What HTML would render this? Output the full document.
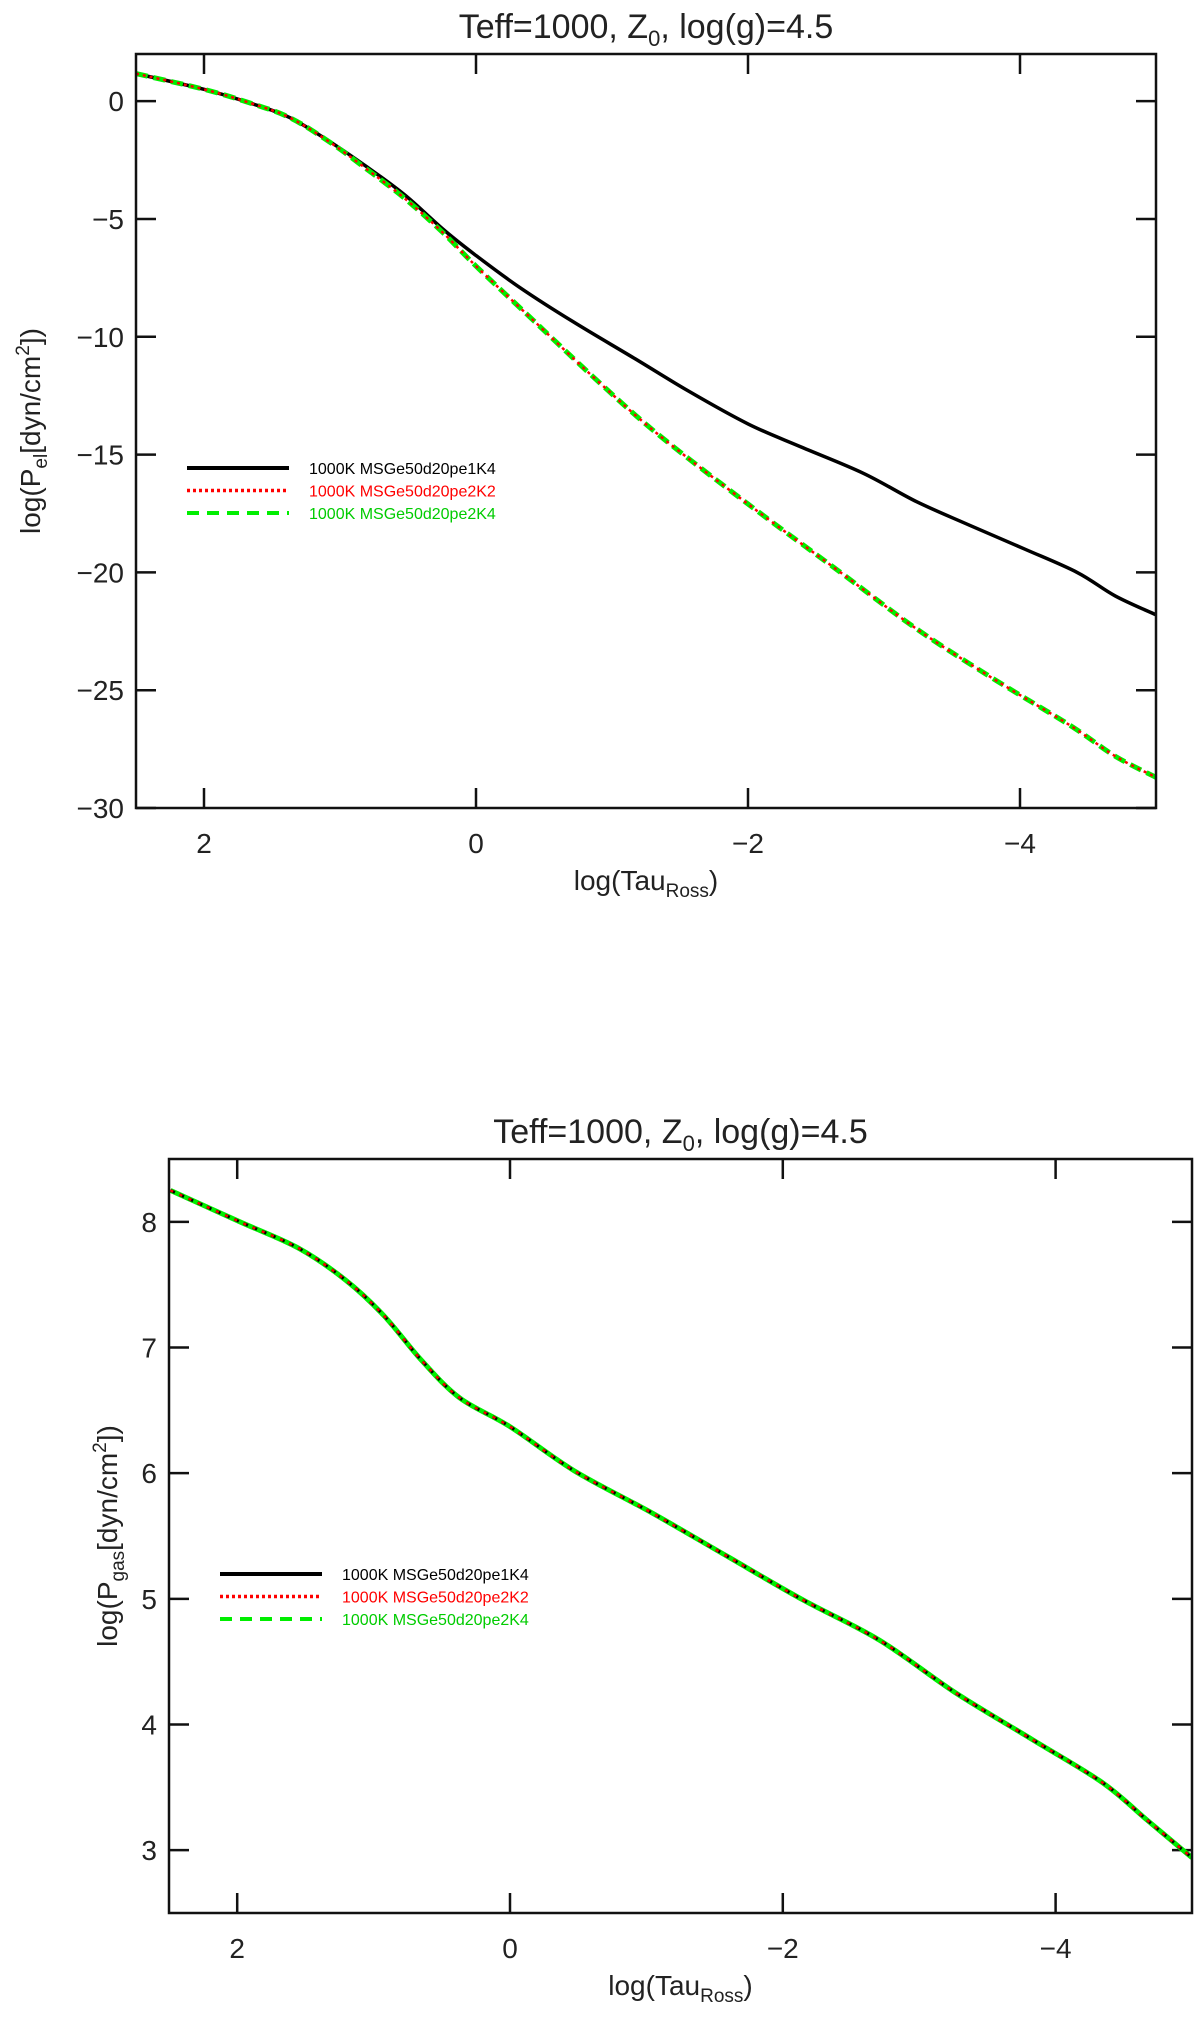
<!DOCTYPE html>
<html><head><meta charset="utf-8"><style>
html,body{margin:0;padding:0;background:#fff;}
svg text{font-family:"Liberation Sans",sans-serif;}
</style></head><body>
<svg id="fig" width="1200" height="2012" xmlns="http://www.w3.org/2000/svg"></svg>
<script>
// Top chart data (log Pel)
const topX = [2.5,2,1.65,1.37,1.08,0.8,0.52,0.24,0,-0.32,-0.71,-1.16,-1.56,-2,-2.4,-2.85,-3.24,-3.63,-4.03,-4.42,-4.7,-5];
const topBlack = [1.17,0.5,-0.1,-0.7,-1.7,-2.8,-4.0,-5.45,-6.55,-7.9,-9.35,-10.9,-12.3,-13.7,-14.7,-15.8,-17.0,-18.0,-19.0,-20.0,-21.0,-21.8];
const topX2 = [2.5,2,1.65,1.37,1.08,0.8,0.52,0.24,0,-0.43,-0.88,-1.33,-2,-2.68,-3.24,-3.8,-4.37,-4.7,-5];
const topRedGreen = [1.17,0.5,-0.1,-0.7,-1.72,-2.9,-4.15,-5.6,-7.0,-9.35,-11.8,-14.1,-17.1,-20.0,-22.4,-24.5,-26.5,-27.8,-28.7];
// Bottom chart data (log Pgas)
const botX = [2.49,1.98,1.55,1.21,0.93,0.65,0.37,0,-0.47,-1.03,-1.59,-2.15,-2.71,-3.27,-3.83,-4.34,-4.67,-5];
const botAll = [8.25,8.0,7.79,7.54,7.26,6.9,6.6,6.37,6.02,5.69,5.34,4.99,4.67,4.25,3.88,3.54,3.24,2.94];
const xTicks = [2,0,-2,-4];
const xTickLabels = ["2","0","\u22122","\u22124"];
const topYTicks = [0,-5,-10,-15,-20,-25,-30];
const topYTickLabels = ["0","\u22125","\u221210","\u221215","\u221220","\u221225","\u221230"];
const botYTicks = [3,4,5,6,7,8];
const botYTickLabels = ["3","4","5","6","7","8"];
const legendLabels = ["1000K  MSGe50d20pe1K4","1000K  MSGe50d20pe2K2","1000K  MSGe50d20pe2K4"];

const NS="http://www.w3.org/2000/svg";
const svg=document.getElementById('fig');
function mk(tag,attrs,parent){const e=document.createElementNS(NS,tag);for(const k in attrs)e.setAttribute(k,attrs[k]);(parent||svg).appendChild(e);return e;}
function pathFrom(xs,ys,sx,sy){
  const p=xs.map((x,i)=>[sx(x),sy(ys[i])]);
  let d="M"+p[0][0].toFixed(1)+","+p[0][1].toFixed(1);
  for(let i=0;i<p.length-1;i++){
    const p0=p[i-1]||p[i],p1=p[i],p2=p[i+1],p3=p[i+2]||p[i+1];
    const c1=[p1[0]+(p2[0]-p0[0])/6,p1[1]+(p2[1]-p0[1])/6];
    const c2=[p2[0]-(p3[0]-p1[0])/6,p2[1]-(p3[1]-p1[1])/6];
    d+=" C"+c1[0].toFixed(1)+","+c1[1].toFixed(1)+" "+c2[0].toFixed(1)+","+c2[1].toFixed(1)+" "+p2[0].toFixed(1)+","+p2[1].toFixed(1);
  }
  return d;
}
function chart(o){
  const g=mk('g',{});
  
  
  const sx=v=>o.L+(o.xmax-v)/(o.xmax-o.xmin)*(o.R-o.L);
  const sy=v=>o.B-(v-o.ymin)/(o.ymax-o.ymin)*(o.B-o.T);
  const clip=mk('clipPath',{id:o.name+'-clip'},g);
  mk('rect',{x:o.L,y:o.T,width:o.R-o.L,height:o.B-o.T},clip);
  const t=mk('text',{x:(o.L+o.R)/2,y:o.T-16,'text-anchor':'middle','font-size':34,fill:'#222'},g);
  t.innerHTML='Teff=1000,  Z<tspan font-size="22" dy="8">0</tspan><tspan dy="-8">,  log(g)=4.5</tspan>';
  
  
  xTicks.forEach((v,i)=>{
    const X=sx(v);
    const a=mk('line',{x1:X,x2:X,y1:o.B,y2:o.B-20,stroke:'#111','stroke-width':2.5},g);
    
    
    mk('line',{x1:X,x2:X,y1:o.T,y2:o.T+20,stroke:'#111','stroke-width':2.5},g);
    const l=mk('text',{x:X,y:o.B+45,'text-anchor':'middle','font-size':28,fill:'#222'},g);
    l.textContent=xTickLabels[i];
    
    
  });
  o.yTicks.forEach((v,i)=>{
    const Y=sy(v);
    const a=mk('line',{x1:o.L,x2:o.L+20,y1:Y,y2:Y,stroke:'#111','stroke-width':2.5},g);
    
    
    mk('line',{x1:o.R,x2:o.R-20,y1:Y,y2:Y,stroke:'#111','stroke-width':2.5},g);
    const l=mk('text',{x:o.L-12,y:Y+10,'text-anchor':'end','font-size':28,fill:'#222'},g);
    l.textContent=o.yTickLabels[i];
    
    
  });
  const xl=mk('text',{x:(o.L+o.R)/2,y:o.B+82,'text-anchor':'middle','font-size':28,fill:'#222'},g);
  xl.innerHTML='log(Tau<tspan font-size="19" dy="7">Ross</tspan><tspan dy="-7">)</tspan>';
  
  
  const yl=mk('text',{x:0,y:0,'text-anchor':'middle','font-size':28,fill:'#222',transform:'translate('+o.ylx+','+(o.T+o.B)/2+') rotate(-90)'},g);
  yl.innerHTML='log(P<tspan font-size="19" dy="7">'+o.sub+'</tspan><tspan dy="-7">[dyn/cm</tspan><tspan font-size="19" dy="-11">2</tspan><tspan dy="11">])</tspan>';
  
  
  const cg=mk('g',{'clip-path':'url(#'+o.name+'-clip)'},g);
  o.series.forEach(s=>{
    const p=mk('path',{d:pathFrom(s.x,s.y,sx,sy),fill:'none',stroke:s.c,'stroke-width':s.w,'stroke-dasharray':s.dash||'none'},cg);
    
    
  });
  const st=[{c:'#000',w:4,d:'none'},{c:'#f00',w:3.5,d:'3,3'},{c:'#0e0',w:4,d:'12,8'}];
  const cols=['#000','#f00','#0c0'];
  legendLabels.forEach((lab,i)=>{
    const Y=o.legY+i*22.5;
    const ln=mk('line',{x1:o.legX,x2:o.legX+102,y1:Y,y2:Y,stroke:st[i].c,'stroke-width':st[i].w,'stroke-dasharray':st[i].d},g);
    
    
    const tx=mk('text',{x:o.legX+122,y:Y+6,'font-size':16,fill:cols[i]},g);
    tx.textContent=lab;
    
    
  });
  const f=mk('rect',{x:o.L,y:o.T,width:o.R-o.L,height:o.B-o.T,fill:'none',stroke:'#111','stroke-width':2.5},g);
  
  
}
chart({name:'pel-chart',L:136,R:1156,T:54,B:808,xmin:-5,xmax:2.5,ymin:-30,ymax:2,
  yTicks:topYTicks,yTickLabels:topYTickLabels,ylx:40,sub:'el',legX:187,legY:468,
  series:[{n:'series-pe1K4',x:topX,y:topBlack,c:'#000',w:3.5},
          {n:'series-pe2K4',x:topX2,y:topRedGreen,c:'#0e0',w:5,dash:'12,6'},
          {n:'series-pe2K2',x:topX2,y:topRedGreen,c:'#f00',w:2.5,dash:'3,4'}]});
chart({name:'pgas-chart',L:169,R:1192,T:1159,B:1913,xmin:-5,xmax:2.5,ymin:2.5,ymax:8.5,
  yTicks:botYTicks,yTickLabels:botYTickLabels,ylx:117,sub:'gas',legX:220,legY:1574,
  series:[{n:'series-pe2K4',x:botX,y:botAll,c:'#0e0',w:5},
          {n:'series-pe1K4',x:botX,y:botAll,c:'#000',w:3,dash:'5,5'},
          {n:'series-pe2K2',x:botX,y:botAll,c:'#f00',w:2.5,dash:'3,7'}]});
</script>
</body></html>
